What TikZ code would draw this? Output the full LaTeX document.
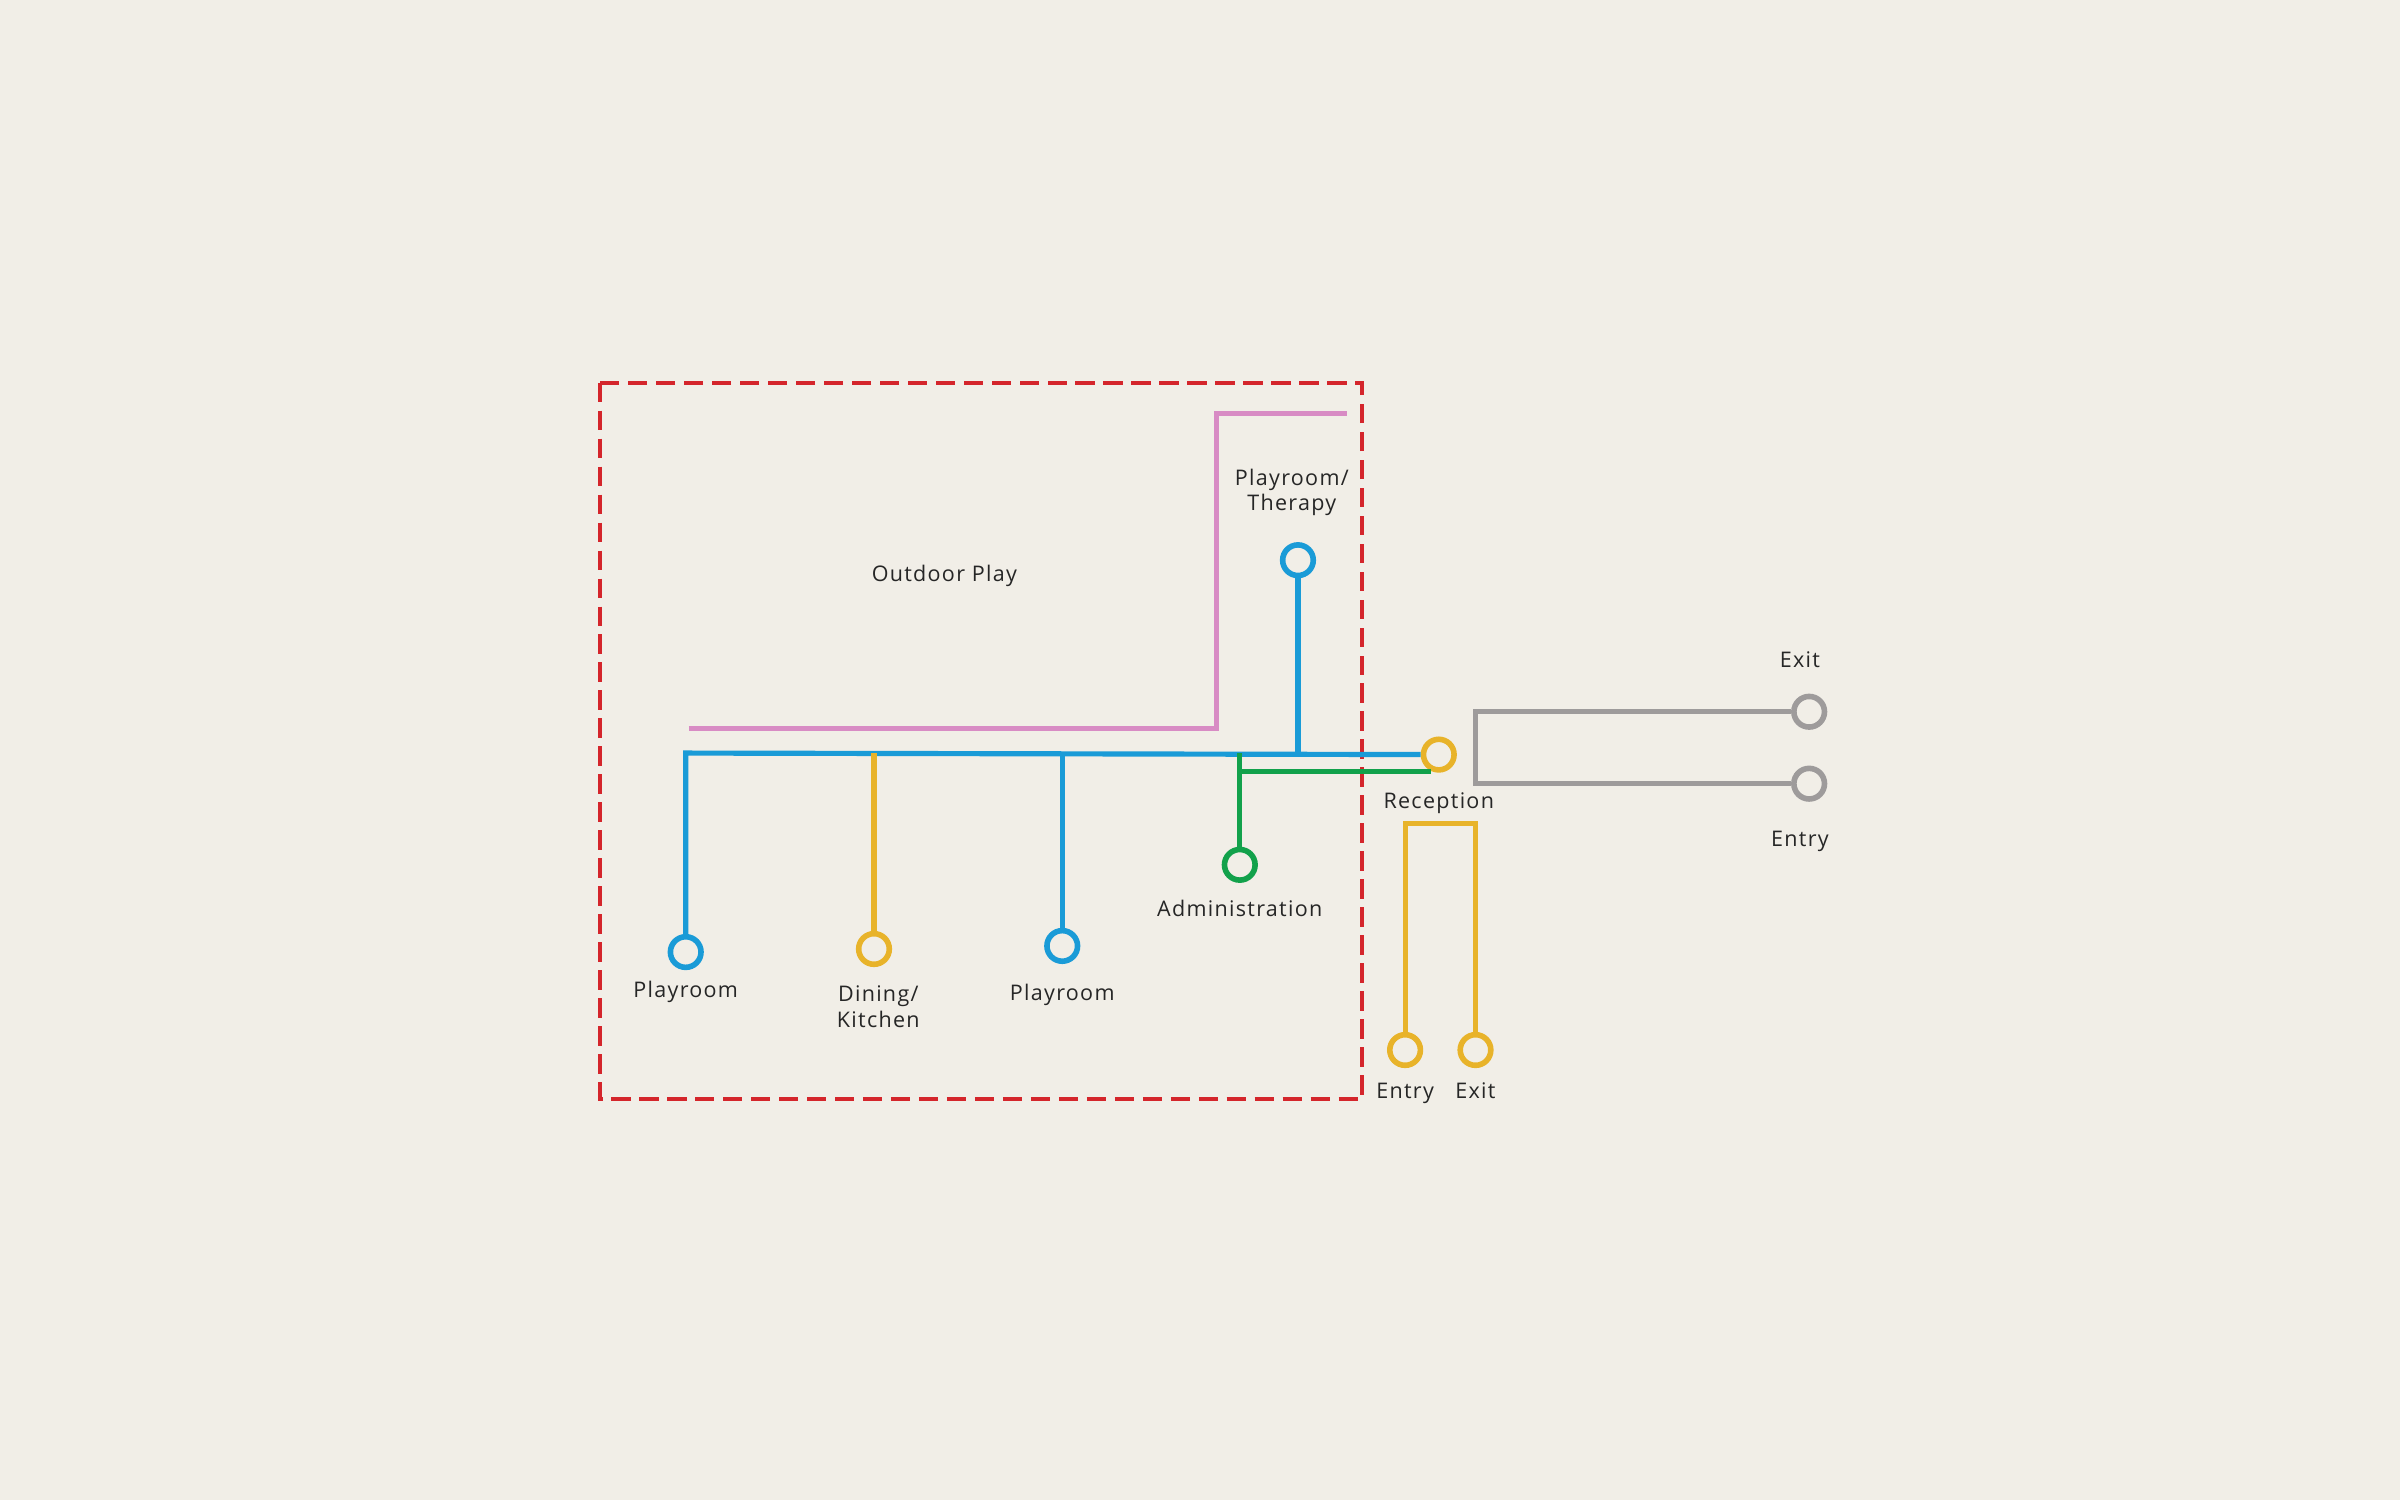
\documentclass[tikz,border=0pt]{standalone}
\usepackage{fontspec}
\setmainfont{Open Sans}[LetterSpace=6]
\usepackage{tikz}
\usetikzlibrary{positioning}
\definecolor{bgc}{HTML}{F1EEE7}
\definecolor{cblue}{HTML}{1A9BD7}
\definecolor{cyel}{HTML}{E8B32A}
\definecolor{cgreen}{HTML}{12A14B}
\definecolor{cpink}{HTML}{D88BC4}
\definecolor{cgrey}{HTML}{9E9B9B}
\definecolor{cred}{HTML}{D4252B}
\tikzset{
  stop/.style={circle,draw=#1,line width=2.6pt,fill=bgc,minimum size=0.5cm,inner sep=0pt},
  lnk/.style={draw=#1,line width=2.4pt},
  lbl/.style={font=\fontsize{10}{12}\selectfont,text=black!85,align=center}
}
\begin{document}
\begin{tikzpicture}[x=0.025cm,y=-0.025cm]
  \fill[bgc] (0,0) rectangle (1568,980);
  \useasboundingbox (0,0) rectangle (1568,980);
  % site boundary
  \draw[cred,line width=1.8pt,dash pattern=on 9pt off 4pt] (392,250) rectangle (890,718);
  % outdoor play edge
  \draw[lnk=cpink] (450,476) -- (795,476) -- (795,270) -- (880,270);
  % nodes
  \node[stop=cyel] (recep) at (940,493) {};
  \node[stop=cblue] (play1) at (448,622) {};
  \node[stop=cyel] (dining) at (571,620) {};
  \node[stop=cblue] (play2) at (694,618) {};
  \node[stop=cblue] (therapy) at (848,366) {};
  \node[stop=cgreen] (admin) at (810,565) {};
  \node[stop=cgrey] (exitR) at (1182,465) {};
  \node[stop=cgrey] (entryR) at (1182,512) {};
  \node[stop=cyel] (entryB) at (918,686) {};
  \node[stop=cyel] (exitB) at (964,686) {};
  % junctions
  \coordinate (jw) at (448,492);
  \coordinate (jg) at (964,465);
  \coordinate (jy) at (940,538);
  % connectors
  \draw[lnk=cblue] (play1) -- (jw) -- (recep);
  \draw[lnk=cyel] (dining) -- (dining |- jw);
  \draw[lnk=cblue] (play2) -- (play2 |- jw);
  \draw[lnk=cblue] (therapy) -- (therapy |- jw);
  \draw[lnk=cgreen] (admin) -- (810,492);
  \draw[lnk=cgreen] (810,504) -- (935,504);
  \draw[lnk=cgrey] (exitR) -- (jg) -- (964,512) -- (entryR);
  \draw[lnk=cyel] (entryB) -- (entryB |- jy) -- (exitB |- jy) -- (exitB);
  % labels
  \node[lbl] (tOut) at (617,376) {Outdoor Play};
  \node[lbl,above=0.3cm of therapy,xshift=-0.1cm] (tTher) {Playroom/\\Therapy};
  \node[lbl,below=0.2cm of recep] (tRec) {Reception};
  \node[lbl,above=0.3cm of exitR,xshift=-0.15cm] (tExR) {Exit};
  \node[lbl,below=0.35cm of entryR,xshift=-0.15cm] (tEnR) {Entry};
  \node[lbl,below=0.15cm of admin] (tAdm) {Administration};
  \node[lbl,below=0.05cm of play1] (tP1) {Playroom};
  \node[lbl,below=0.18cm of dining,xshift=0.07cm] (tDin) {Dining/\\Kitchen};
  \node[lbl,below=0.2cm of play2] (tP2) {Playroom};
  \node[lbl,below=0.12cm of entryB] (tEnB) {Entry};
  \node[lbl,below=0.12cm of exitB] (tExB) {Exit};
\end{tikzpicture}
\end{document}
